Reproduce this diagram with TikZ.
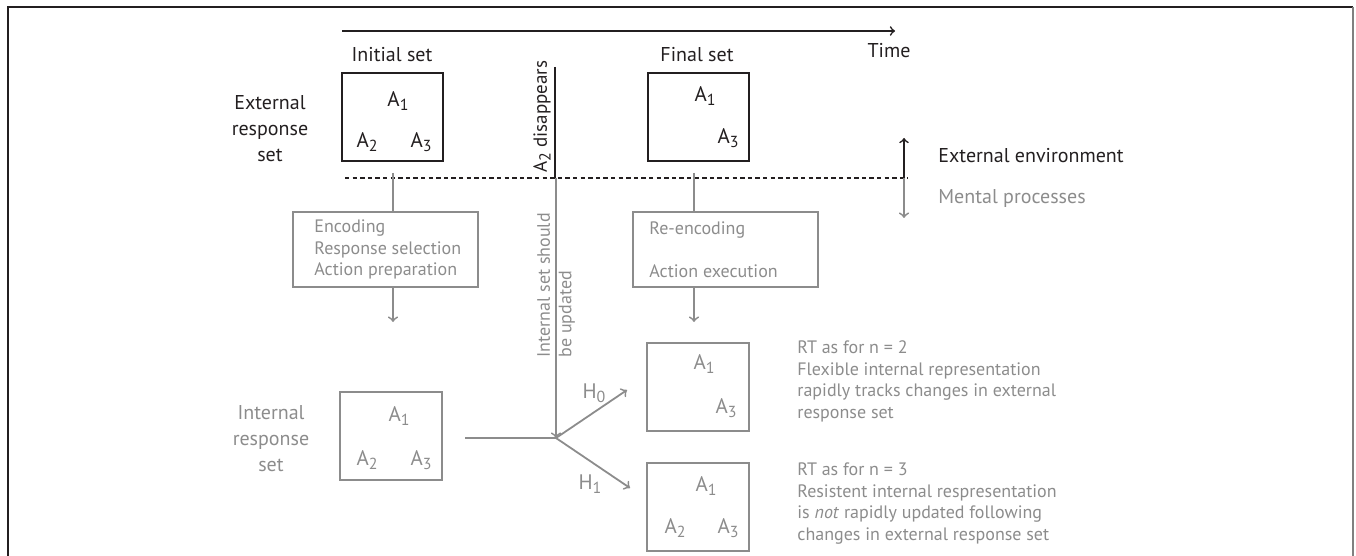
\documentclass[tikz,border=0pt]{standalone}
\usepackage{fontspec}
\setmainfont{PT Sans}
\usepackage{xcolor}
\usepackage{tikz}
\definecolor{extblack}{RGB}{35,31,32}
\definecolor{mentgray}{RGB}{140,140,140}
\newcommand{\lowsub}[1]{\raisebox{-0.4ex}{\fontsize{8}{8}\selectfont #1}}
\newcommand{\Asub}[1]{A\lowsub{#1}}
\tikzset{biglabel/.style={font=\fontsize{10}{13}\selectfont, text=extblack, align=center, inner sep=1pt}}
\tikzset{smalllabel/.style={font=\fontsize{9}{10.75}\selectfont, text=mentgray, align=left, inner sep=1pt}}
\tikzset{setitem/.style={font=\fontsize{10.5}{12}\selectfont, inner sep=0pt}}
\tikzset{extset/.style={draw=extblack, line width=1.1pt, minimum width=50.5pt, minimum height=44pt, inner sep=0pt}}
\tikzset{intset/.style={draw=mentgray, line width=1pt, minimum width=51pt, minimum height=44pt, inner sep=0pt}}
\tikzset{procbox/.style={draw=mentgray, line width=1pt, minimum width=92.5pt, minimum height=37.5pt, inner sep=0pt}}
\tikzset{mentline/.style={draw=mentgray, line width=0.9pt}}
\tikzset{mentarrow/.style={mentline, ->}}
\tikzset{extarrow/.style={draw=extblack, line width=0.8pt, ->}}
\tikzset{divider/.style={draw=extblack, line width=1pt, dash pattern=on 2.2pt off 1.6pt}}

\begin{document}
\begin{tikzpicture}[x=0.5pt,y=-0.5pt]
\useasboundingbox (0,0) rectangle (1356,556);
\draw[extblack, line width=1pt] (8,560) -- (8,7) -- (1353,7);
\draw[gray, line width=1.2pt] (1353,7) -- (1353,560);

\coordinate (t0) at (342,31);
\coordinate (t1) at (895,31);
\draw[extarrow] (t0) -- (t1);
\node[biglabel] (time) at (889,51) {Time};
\node[biglabel] (inilab) at (392,55) {Initial set};
\node[biglabel] (finlab) at (697,55) {Final set};
\node[biglabel] (extlab) at (270,129) {External\\response\\set};
\node[biglabel, text=mentgray] (intlab) at (271,439) {Internal\\response\\set};

\node[extset] (ini) at (392.5,117) {};
\node[setitem, text=extblack] (ia1) at (398,101) {\Asub1};
\node[setitem, text=extblack] (ia2) at (367,142) {\Asub2};
\node[setitem, text=extblack] (ia3) at (421,142) {\Asub3};
\node[extset] (fin) at (698.5,117) {};
\node[setitem, text=extblack] (fa1) at (705,96) {\Asub1};
\node[setitem, text=extblack] (fa3) at (728,138) {\Asub3};

\coordinate (d0) at (345,178);
\coordinate (d1) at (908,178);
\draw[divider] (d0) -- (d1);
\coordinate (dis0) at (555,67);
\draw[extblack, line width=1pt] (dis0) -- (dis0 |- d0);
\node[biglabel, font=\fontsize{9.5}{11}\selectfont, rotate=90, anchor=south west] (dislab) at (553,175) {\Asub2 disappears};

\coordinate (env) at (904,178);
\coordinate (envup) at (904,138);
\coordinate (envdn) at (904,218);
\draw[extarrow] (env) -- (envup);
\draw[mentarrow] (env) -- (envdn);
\node[biglabel, anchor=west] (extenv) at (936,156) {External environment};
\node[biglabel, text=mentgray, anchor=west] (mentproc) at (936,199) {Mental processes};

\node[procbox] (enc) at (385.5,249.5) {};
\node[smalllabel, anchor=west] (enctxt) at (312,249.5) {Encoding\\Response selection\\Action preparation};
\node[procbox] (reenc) at (725,249.5) {};
\node[smalllabel, anchor=west] (reenctxt) at (647,249.5) {Re-encoding\\\mbox{}\\Action execution};

\coordinate (inifoot) at (393,173);
\coordinate (finfoot) at (694,173);
\draw[mentline] (inifoot) -- (inifoot |- enc.north);
\draw[mentline] (finfoot) -- (finfoot |- reenc.north);
\coordinate (encend) at (393,322);
\coordinate (reencend) at (694,322);
\draw[mentarrow] (enc.south -| encend) -- (encend);
\draw[mentarrow] (reenc.south -| reencend) -- (reencend);

\node[intset] (int) at (391,435.5) {};
\node[setitem, text=mentgray] (na1) at (399,416) {\Asub1};
\node[setitem, text=mentgray] (na2) at (367,460) {\Asub2};
\node[setitem, text=mentgray] (na3) at (421,460) {\Asub3};

\coordinate (upd) at (556,178);
\coordinate (jn) at (556,438);
\coordinate (ih) at (465,438);
\draw[mentarrow] (upd) -- (jn);
\draw[mentline] (ih) -- (jn);
\node[smalllabel, rotate=90, anchor=west] (updlab) at (556,360) {Internal set should\\be updated};

\coordinate (h0end) at (627,390);
\coordinate (h1end) at (630,488);
\draw[mentarrow] (jn) -- (h0end);
\draw[mentarrow] (jn) -- (h1end);
\node[setitem, text=mentgray] (h0lab) at (594,393) {H\lowsub{0}};
\node[setitem, text=mentgray] (h1lab) at (590,484) {H\lowsub{1}};

\node[intset] (hz) at (697.5,387) {};
\node[setitem, text=mentgray] (za1) at (704,364) {\Asub1};
\node[setitem, text=mentgray] (za3) at (726,408) {\Asub3};
\node[intset] (ho) at (697.5,507) {};
\node[setitem, text=mentgray] (oa1) at (706,486) {\Asub1};
\node[setitem, text=mentgray] (oa2) at (675,528) {\Asub2};
\node[setitem, text=mentgray] (oa3) at (728,528) {\Asub3};

\node[smalllabel, anchor=west] (rttwo) at (795,381.5) {RT as for n = 2\\Flexible internal representation\\rapidly tracks changes in external\\response set};
\node[smalllabel, anchor=west] (rtthree) at (795,503.5) {RT as for n = 3\\Resistent internal respresentation\\is \textit{not} rapidly updated following\\changes in external response set};
\end{tikzpicture}
\end{document}
